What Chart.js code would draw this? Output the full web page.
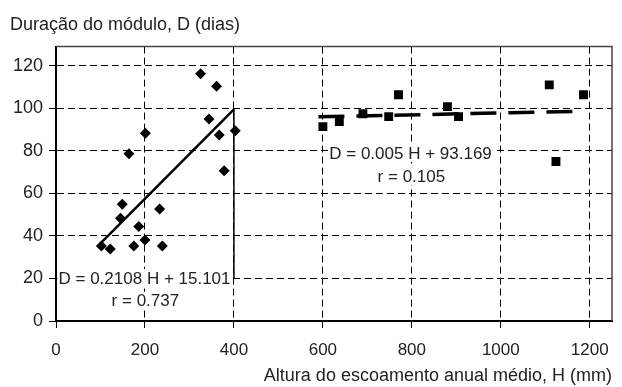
<!DOCTYPE html>
<html>
<head>
<meta charset="utf-8">
<script src="https://cdn.jsdelivr.net/npm/chart.js@4/dist/chart.umd.min.js"></script>
<style>
  html, body { margin: 0; padding: 0; background: #fff; }
  #wrap { width: 622px; height: 387px; }
</style>
</head>
<body>
<div id="wrap"><canvas id="chart"></canvas></div>
<script>
// ================= DATA =================

const leftH = [102, 122, 145, 149, 164, 175, 186, 200, 201, 233, 239, 325, 344, 361, 367, 378, 403];
const leftD = [35.3, 33.9, 48.3, 54.9, 78.6, 35.3, 44.4, 38.1, 88.3, 52.7, 35.3, 116.2, 95, 110.4, 87.5, 70.6, 89.4];

const rightH = [600, 637, 690, 748, 770, 880, 905, 1109, 1124, 1186];
const rightD = [91.4, 93.8, 97.4, 96.1, 106.4, 100.8, 96.1, 111, 75, 106.4];

// fitted lines, end points
const fitLeftH = [100, 400];
const fitLeftD = [36.5, 99.5];
const fitRightH = [590, 1180];
const fitRightD = [96, 98.6];
const dropH = [400, 400];
const dropD = [100, 20];

const xTicks = [0, 200, 400, 600, 800, 1000, 1200];
const yTicks = [0, 20, 40, 60, 80, 100, 120];

const yTitle = "Duração do módulo, D (dias)";
const xTitle = "Altura do escoamento anual médio, H (mm)";
const eqRight = ["D = 0.005 H + 93.169", "r = 0.105"];
const eqLeft = ["D = 0.2108 H + 15.101", "r = 0.737"];

const FONT = "'Liberation Sans', Arial, sans-serif";
const INK = "#222";

function pts(xs, ys) {
  return xs.map((x, i) => ({ x: x, y: ys[i] }));
}

// ================= PLUGINS =================

// frame around the plot area (top and right sides)
const frame = {
  id: "frame",
  afterDraw(chart) {
    const a = chart.chartArea;
    const ctx = chart.ctx;
    ctx.save();
    ctx.strokeStyle = "#444";
    ctx.lineWidth = 1.5;
    ctx.beginPath();
    ctx.moveTo(a.left, a.top);
    ctx.lineTo(a.right, a.top);
    ctx.lineTo(a.right, a.bottom);
    ctx.stroke();
    ctx.restore();
  }
};

// regression equations, placed at data coordinates
const notes = {
  id: "notes",
  afterDatasetsDraw(chart) {
    const xs = chart.scales.x;
    const ys = chart.scales.y;
    const ctx = chart.ctx;
    const items = [
      { text: eqRight[0], x: 797, y: 79 },
      { text: eqRight[1], x: 799, y: 68 },
      { text: eqLeft[0], x: 199, y: 20.2 },
      { text: eqLeft[1], x: 201, y: 9.5 }
    ];
    ctx.save();
    ctx.font = "17px " + FONT;
    ctx.textAlign = "center";
    ctx.textBaseline = "middle";
    items.forEach((n) => {
      const px = xs.getPixelForValue(n.x);
      const py = ys.getPixelForValue(n.y);
      const w = ctx.measureText(n.text).width;
      ctx.fillStyle = "#fff";
      ctx.fillRect(px - w / 2 - 1, py - 9, w + 2, 18);
      ctx.fillStyle = INK;
      ctx.fillText(n.text, px, py + 1);
    });
    ctx.restore();
  }
};

// ================= CHART =================

new Chart(document.getElementById("chart"), {

  type: "scatter",

  data: {
    datasets: [
      {
        data: pts(leftH, leftD),
        pointStyle: "rectRot",
        pointRadius: 5.5,
        backgroundColor: "#000",
        borderColor: "#000",
        borderWidth: 0
      },
      {
        data: pts(rightH, rightD),
        pointStyle: "rect",
        pointRadius: 6.3,
        backgroundColor: "#000",
        borderColor: "#000",
        borderWidth: 0
      },
      {
        data: pts(fitLeftH, fitLeftD),
        showLine: true,
        pointRadius: 0,
        borderColor: "#000",
        borderWidth: 2.5
      },
      {
        data: pts(fitRightH, fitRightD),
        showLine: true,
        pointRadius: 0,
        borderColor: "#000",
        borderWidth: 3.5,
        borderDash: [26, 12]
      },
      {
        data: pts(dropH, dropD),
        showLine: true,
        pointRadius: 0,
        borderColor: "#000",
        borderWidth: 1.5
      }
    ]
  },

  options: {
    responsive: true,
    maintainAspectRatio: false,
    animation: false,
    layout: { padding: { left: 10, right: 10, top: 0, bottom: 0 } },

    plugins: {
      legend: { display: false },
      tooltip: { enabled: false },
      title: {
        display: true,
        text: yTitle,
        align: "start",
        color: INK,
        font: { family: FONT, size: 18, weight: "normal" },
        padding: { top: 14, bottom: 11 }
      }
    },

    scales: {
      x: {
        type: "linear",
        min: 0,
        max: 1250,
        afterBuildTicks: (s) => { s.ticks = xTicks.map((v) => ({ value: v })); },
        afterFit: (s) => { s.height = 66; },
        ticks: {
          color: INK,
          padding: 12,
          maxRotation: 0,
          font: { family: FONT, size: 17 },
          callback: (v) => String(v)
        },
        grid: {
          color: "#000",
          lineWidth: 1,
          tickLength: 7,
          tickBorderDash: []
        },
        border: { display: true, color: "#000", width: 2, dash: [7, 4] },
        title: {
          display: true,
          text: xTitle,
          align: "end",
          color: INK,
          font: { family: FONT, size: 18 },
          padding: { top: 6, bottom: 0 }
        }
      },
      y: {
        type: "linear",
        min: 0,
        max: 129,
        afterBuildTicks: (s) => { s.ticks = yTicks.map((v) => ({ value: v })); },
        afterFit: (s) => { s.width = 46; },
        ticks: {
          color: INK,
          padding: 6,
          font: { family: FONT, size: 18 }
        },
        grid: {
          color: "#000",
          lineWidth: 1,
          tickLength: 7,
          tickBorderDash: []
        },
        border: { display: true, color: "#000", width: 2, dash: [7, 4] }
      }
    }
  },

  plugins: [frame, notes]
});
</script>
</body>
</html>
